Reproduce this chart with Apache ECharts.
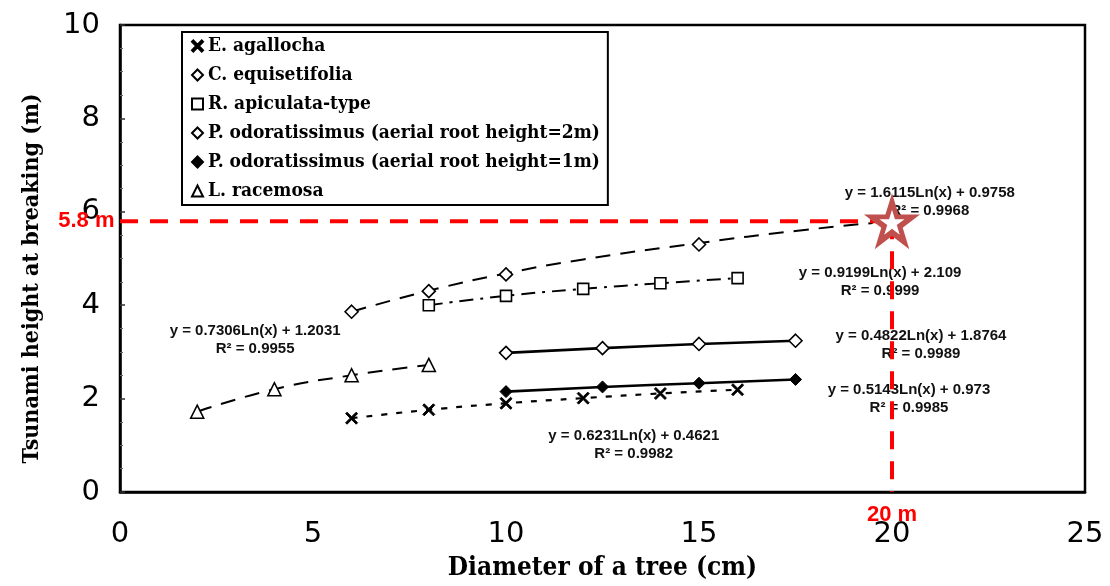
<!DOCTYPE html>
<html><head><meta charset="utf-8">
<script src="https://cdn.jsdelivr.net/npm/echarts@6/dist/echarts.min.js"></script>
<style>html,body{margin:0;padding:0;background:#fff}#c{width:1110px;height:586px}</style>
</head><body><div id="c"></div>
<script>
// ---- data ----
const xTicks = [0, 5, 10, 15, 20, 25];
const yTicks = [0, 2, 4, 6, 8, 10];
const seriesNames = [
  'E. agallocha',
  'C. equisetifolia',
  'R. apiculata-type',
  'P. odoratissimus (aerial root height=2m)',
  'P. odoratissimus (aerial root height=1m)',
  'L. racemosa'
];
const eAgallocha   = [[6,1.58],[8,1.76],[10,1.90],[12,2.01],[14,2.11],[16,2.19]];
const cEquisetifolia = [[6,3.86],[8,4.30],[10,4.66],[15,5.30]];
const rApiculata   = [[8,4.00],[10,4.20],[12,4.35],[14,4.47],[16,4.58]];
const pOdor2m      = [[10,2.98],[12.5,3.08],[15,3.17],[17.5,3.24]];
const pOdor1m      = [[10,2.15],[12.5,2.25],[15,2.33],[17.5,2.41]];
const lRacemosa    = [[2,1.72],[4,2.20],[6,2.50],[8,2.72]];
// trend curves
const eAgallochaTrend = [[6,1.58],[8,1.76],[10,1.90],[12,2.01],[14,2.11],[16,2.19]];
const cEquisetifoliaTrend = [[6,3.86],[8,4.31],[10,4.68],[12,4.98],[15,5.33],[17.5,5.59],[19.5,5.76]];
const rApiculataTrend = [[8,4.00],[10,4.20],[12,4.35],[14,4.47],[16,4.58]];
const pOdor2mTrend = [[10,2.98],[12.5,3.08],[15,3.17],[17.5,3.24]];
const pOdor1mTrend = [[10,2.15],[12.5,2.25],[15,2.33],[17.5,2.41]];
const lRacemosaTrend = [[2,1.72],[4,2.20],[6,2.50],[8,2.72]];
const equations = [
  'y = 0.7306Ln(x) + 1.2031\nR² = 0.9955',
  'y = 0.6231Ln(x) + 0.4621\nR² = 0.9982',
  'y = 1.6115Ln(x) + 0.9758\nR² = 0.9968',
  'y = 0.9199Ln(x) + 2.109\nR² = 0.9999',
  'y = 0.4822Ln(x) + 1.8764\nR² = 0.9989',
  'y = 0.5143Ln(x) + 0.973\nR² = 0.9985'
];
const equationAnchors = [[3.5,3.25],[13.31,1.01],[20.98,6.22],[19.69,4.49],[20.75,3.16],[20.44,2.0]];
const highlightPoint = [20, 5.8];
const highlightXLabel = '20 m';
const highlightYLabel = '5.8 m';

// ---- styling ----
const serif = '"DejaVu Serif Condensed", "DejaVu Serif", "Liberation Serif", serif';
const sans = '"Liberation Sans", Arial, sans-serif';
const tickFont = '"DejaVu Sans", "Liberation Sans", Arial, sans-serif';
const narrow = '"Liberation Sans Narrow", "Liberation Sans", Arial, sans-serif';
const crossPath = 'path://M0,1.2 L1.2,0 L5,3.8 L8.8,0 L10,1.2 L6.2,5 L10,8.8 L8.8,10 L5,6.2 L1.2,10 L0,8.8 L3.8,5 Z';
const starPath = 'path://M50,0 L61.2,34.5 L97.6,34.5 L68.2,55.9 L79.4,90.5 L50,69.1 L20.6,90.5 L31.8,55.9 L2.4,34.5 L38.8,34.5 Z';
const open = {color:'#fff', borderColor:'#000', borderWidth:1.6, opacity:1};
const filled = {color:'#000', borderColor:'#000', borderWidth:1, opacity:1};

const markerDefs = [
  {data:eAgallocha, symbol:crossPath, size:12, style:filled},
  {data:cEquisetifolia, symbol:'diamond', size:13, style:open},
  {data:rApiculata, symbol:'rect', size:11, style:open},
  {data:pOdor2m, symbol:'diamond', size:13, style:open},
  {data:pOdor1m, symbol:'diamond', size:12, style:filled},
  {data:lRacemosa, symbol:'triangle', size:13, style:open}
];
const trendDefs = [
  {data:eAgallochaTrend, type:[6,9], width:2.2},
  {data:cEquisetifoliaTrend, type:[15,10], width:2},
  {data:rApiculataTrend, type:[14,7,3,7], width:2},
  {data:pOdor2mTrend, type:'solid', width:2.6},
  {data:pOdor1mTrend, type:'solid', width:2.6},
  {data:lRacemosaTrend, type:[15,10], width:2}
];

const series = [];
trendDefs.forEach((t, i) => {
  series.push({
    name: 'trend' + i, type: 'line', data: t.data, smooth: true, showSymbol: false,
    symbol: 'none', silent: true, z: 2,
    lineStyle: {color:'#000', width:t.width, type:t.type}
  });
});
markerDefs.forEach((m, i) => {
  series.push({
    name: seriesNames[i], type: 'scatter', data: m.data, symbol: m.symbol,
    symbolSize: m.size, itemStyle: m.style, z: 4
  });
});
// equations
series.push({
  name: 'eq', type: 'scatter', symbolSize: 0, silent: true, z: 5,
  itemStyle: {opacity: 1},
  data: equationAnchors.map((p, i) => ({value: p, label: {formatter: equations[i]}})),
  label: {show: true, position: 'inside', color: '#111', fontFamily: sans, fontSize: 15,
          fontWeight: 'bold', lineHeight: 18, align: 'center'}
});
// red highlight lines
series.push({
  name: 'hline', type: 'line', silent: true, z: 6, symbol: 'none',
  data: [[0, highlightPoint[1]], highlightPoint],
  lineStyle: {color: '#ff0000', width: 4, type: [18, 12]}
});
series.push({
  name: 'vline', type: 'line', silent: true, z: 6, symbol: 'none',
  data: [highlightPoint, [highlightPoint[0], 0]],
  lineStyle: {color: '#ff0000', width: 4, type: [18, 12]}
});
series.push({
  name: 'redLabels', type: 'scatter', silent: true, z: 7, symbolSize: 1,
  itemStyle: {color: 'transparent', opacity: 1},
  data: [
    {value: [0, highlightPoint[1]], label: {formatter: highlightYLabel, position: 'left', distance: 5}},
    {value: [highlightPoint[0], 0], label: {formatter: highlightXLabel, position: 'bottom', distance: 11}}
  ],
  label: {show: true, color: '#ff0000', fontFamily: narrow, fontSize: 22, fontWeight: 'bold'}
});
series.push({
  name: 'star', type: 'scatter', silent: true, z: 8, data: [highlightPoint],
  symbol: starPath, symbolSize: 56, itemStyle: {color: '#c0504d', opacity: 1}
});
series.push({
  name: 'starInner', type: 'scatter', silent: true, z: 9, data: [highlightPoint],
  symbol: starPath, symbolSize: 25, symbolOffset: [0, 1], itemStyle: {color: '#fff', opacity: 1}
});

const chart = echarts.init(document.getElementById('c'), null, {renderer: 'canvas'});
chart.setOption({
  animation: false,
  backgroundColor: '#fff',
  grid: {left: 120, right: 25, top: 25, bottom: 87, show: true, borderColor: '#000', borderWidth: 2.5},
  legend: {
    data: seriesNames, orient: 'vertical', left: 182, top: 32,
    borderColor: '#000', borderWidth: 2, padding: [4, 8, 4, 9],
    itemGap: 9, itemWidth: 11, itemHeight: 11, itemTextGap: 14,
    textStyle: {fontFamily: serif, fontSize: 19, lineHeight: 20, fontWeight: 'bold', color: '#000'},
    selectedMode: false
  },
  xAxis: {
    type: 'value', min: xTicks[0], max: xTicks[xTicks.length - 1], interval: 5,
    name: 'Diameter of a tree (cm)', nameLocation: 'middle', nameGap: 63,
    nameTextStyle: {fontFamily: serif, fontSize: 26, fontWeight: 'bold', color: '#000'},
    axisLine: {show: true, lineStyle: {color: '#000', width: 2.5}},
    axisTick: {show: false}, splitLine: {show: false},
    axisLabel: {margin: 28, fontFamily: tickFont, fontSize: 29, color: '#000',
                formatter: v => xTicks.includes(v) ? String(v) : ''}
  },
  yAxis: {
    type: 'value', min: yTicks[0], max: yTicks[yTicks.length - 1], interval: 2,
    name: 'Tsunami height at breaking (m)', nameLocation: 'middle', nameGap: 76,
    nameTextStyle: {fontFamily: serif, fontSize: 23, fontWeight: 'bold', color: '#000', padding: [0, 40, 0, 0]},
    axisLine: {show: true, lineStyle: {color: '#000', width: 2.5}},
    axisTick: {show: true, inside: true, length: 5, lineStyle: {color: '#333', width: 1.5}},
    minorTick: {show: true, splitNumber: 4, length: 3, lineStyle: {color: '#666'}},
    splitLine: {show: false},
    axisLabel: {margin: 20, fontFamily: tickFont, fontSize: 29, color: '#000',
                formatter: v => yTicks.includes(v) ? String(v) : ''}
  },
  series: series
});
</script>
</body></html>
